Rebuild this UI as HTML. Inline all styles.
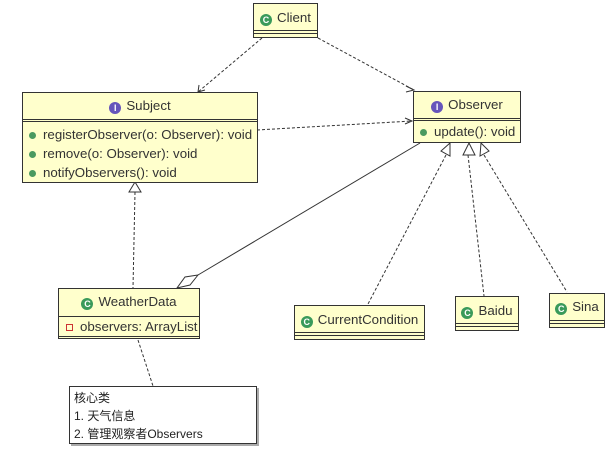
<!DOCTYPE html><html><head><meta charset="utf-8"><style>
body{margin:0;background:#fff;width:612px;height:454px;overflow:hidden;position:relative;font-family:"Liberation Sans","Noto Sans CJK SC",sans-serif}
.b{position:absolute;background:#ffffcc;border:1.5px solid #333;box-sizing:border-box;font-size:13.3px;color:#333;white-space:nowrap}
.h{text-align:center;border-bottom:3px double #333;box-sizing:border-box}
.ic{display:inline-block;width:12px;height:12px;border-radius:50%;color:#fff;font-size:9px;line-height:12px;text-align:center;font-weight:bold;margin-right:5px;vertical-align:-1px}
.g{background:#3a9a5a}.p{background:#6655bb}
.m{padding-left:6px;height:19px;line-height:19px}
.d{display:inline-block;width:7px;height:7px;border-radius:50%;background:#4a9a60;margin-right:7px}
svg{position:absolute;left:0;top:0}
</style></head><body>
<svg width="612" height="454">
<g stroke="#333" fill="none" stroke-width="1" stroke-dasharray="3,2">
<line x1="262" y1="38" x2="198" y2="92"/>
<line x1="318" y1="38" x2="414" y2="90"/>
<line x1="257" y1="130" x2="412" y2="121"/>
<line x1="135" y1="192" x2="133" y2="288"/>
<line x1="446" y1="155" x2="368" y2="304"/>
<line x1="468" y1="155" x2="484" y2="296"/>
<line x1="484" y1="155" x2="567" y2="292"/>
<line x1="138" y1="340" x2="153" y2="386"/>
</g>
<g stroke="#333" fill="none" stroke-width="1">
<polyline points="199,85 198,92 205,90"/>
<polyline points="406,86 414,90 406,92"/>
<polyline points="405,118 412,121 405,124"/>
<line x1="420" y1="143" x2="198" y2="275"/>
</g>
<g stroke="#333" fill="#fff" stroke-width="1">
<polygon points="135,182 129,192 141,192"/>
<polygon points="450,143 441,151 450,156"/>
<polygon points="469,143 463,155 475,155"/>
<polygon points="481,143 480,156 489,151"/>
<polygon points="198,275 185,277 177,288 190,285"/>
</g>
</svg>
<div class="b" style="left:253px;top:3px;width:65px;height:35px"><div class="h" style="height:30px;line-height:27px;border-bottom-width:4px"><span class="ic g">C</span>Client</div></div>
<div class="b" style="left:22px;top:92px;width:236px;height:91px"><div class="h" style="height:29px;line-height:26px"><span class="ic p">I</span>Subject</div>
<div style="padding-top:3px"><div class="m"><span class="d"></span>registerObserver(o: Observer): void</div><div class="m"><span class="d"></span>remove(o: Observer): void</div><div class="m"><span class="d"></span>notifyObservers(): void</div></div></div>
<div class="b" style="left:413px;top:91px;width:108px;height:52px"><div class="h" style="height:29px;line-height:26px"><span class="ic p">I</span>Observer</div><div class="m" style="line-height:22px"><span class="d"></span>update(): void</div></div>
<div class="b" style="left:58px;top:288px;width:142px;height:51px"><div style="text-align:center;height:27px;line-height:25px;border-bottom:1.5px solid #333"><span class="ic g">C</span>WeatherData</div><div style="padding-left:7px;line-height:19px;border-bottom:3px double #333"><span style="display:inline-block;width:5px;height:5px;border:1px solid #c33;margin-right:7px"></span>observers: ArrayList</div></div>
<div class="b" style="left:294px;top:305px;width:131px;height:35px"><div class="h" style="height:30px;line-height:28px;border-bottom-width:4px"><span class="ic g">C</span>CurrentCondition</div></div>
<div class="b" style="left:455px;top:296px;width:64px;height:35px"><div class="h" style="height:30px;line-height:28px;border-bottom-width:4px"><span class="ic g">C</span>Baidu</div></div>
<div class="b" style="left:549px;top:293px;width:56px;height:35px"><div class="h" style="height:30px;line-height:26px;border-bottom-width:4px"><span class="ic g">C</span>Sina</div></div>
<div style="position:absolute;left:69px;top:386px;width:188px;height:58px;border:1px solid #333;box-sizing:border-box;background:#fff;font-size:12px;color:#222;padding:2px 0 0 4px;line-height:18px;box-shadow:2px 2px 0 #aaa;white-space:nowrap">核心类<br>1. 天气信息<br>2. 管理观察者Observers</div>
</body></html>
